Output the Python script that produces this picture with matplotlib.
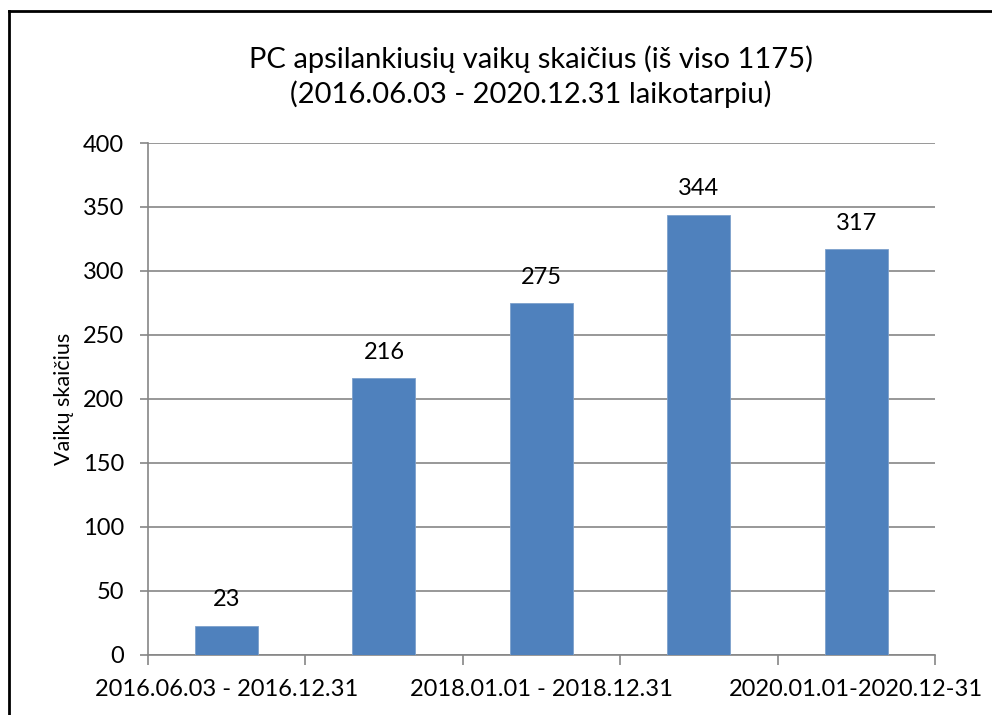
import numpy as np
import matplotlib.pyplot as plt
from matplotlib.lines import Line2D

plt.rcParams['font.family'] = ['Lato', 'DejaVu Sans']

# data
periods = ['2016.06.03 - 2016.12.31', '2017.01.01 - 2017.12.31',
           '2018.01.01 - 2018.12.31', '2019.01.01 - 2019.12.31',
           '2020.01.01-2020.12-31']
kids = [23, 216, 275, 344, 317]
title = 'PC apsilankiusių vaikų skaičius (iš viso 1175)\n(2016.06.03 - 2020.12.31 laikotarpiu)'
ylabel = 'Vaikų skaičius'

grey = '#868686'
blue = '#4F81BD'

fig = plt.figure(figsize=(9.92, 7.15), dpi=100)
ax = fig.add_axes([0.149, 0.084, 0.7935, 0.716])

x = np.arange(len(kids))
bars = ax.bar(x, kids, width=0.4, color=blue, edgecolor='#7DA0CC', linewidth=0.6, zorder=3)

for xi, v in zip(x, kids):
    ax.annotate(str(v), (xi, v), xytext=(0, 11), textcoords='offset points',
                ha='center', va='bottom', fontsize=17)

ax.set_xlim(-0.5, len(kids) - 0.5)
ax.set_ylim(0, 400)
ax.set_yticks(np.arange(0, 401, 50))
ax.yaxis.grid(True, color=grey, linewidth=1.2, zorder=0)
ax.tick_params(axis='y', length=6, color=grey, width=1.2, labelsize=17, pad=11)

# category boundary ticks, labels on every other category
ax.set_xticks(np.arange(-0.5, len(kids)), minor=False)
ax.set_xticklabels([])
ax.set_xticks(x, minor=True)
ax.set_xticklabels([p if i % 2 == 0 else '' for i, p in enumerate(periods)], minor=True)
ax.tick_params(axis='x', which='major', length=7, color=grey, width=1.2)
ax.tick_params(axis='x', which='minor', length=0, labelsize=17, pad=17)

for s in ['top', 'right']:
    ax.spines[s].set_visible(False)
for s in ['left', 'bottom']:
    ax.spines[s].set_color(grey)
    ax.spines[s].set_linewidth(1.2)

ax.set_ylabel(ylabel, fontsize=15.5, labelpad=6)
fig.text(0.535, 0.893, title, ha='center', va='center', fontsize=21, linespacing=1.3)

# outer frame (top and left visible in the crop)
fig.add_artist(Line2D([9 / 992, 1], [1 - 11 / 715, 1 - 11 / 715], color='black', lw=2, transform=fig.transFigure))
fig.add_artist(Line2D([9 / 992, 9 / 992], [1 - 11 / 715, 0], color='black', lw=2, transform=fig.transFigure))

fig.savefig('out.png', dpi=100)
